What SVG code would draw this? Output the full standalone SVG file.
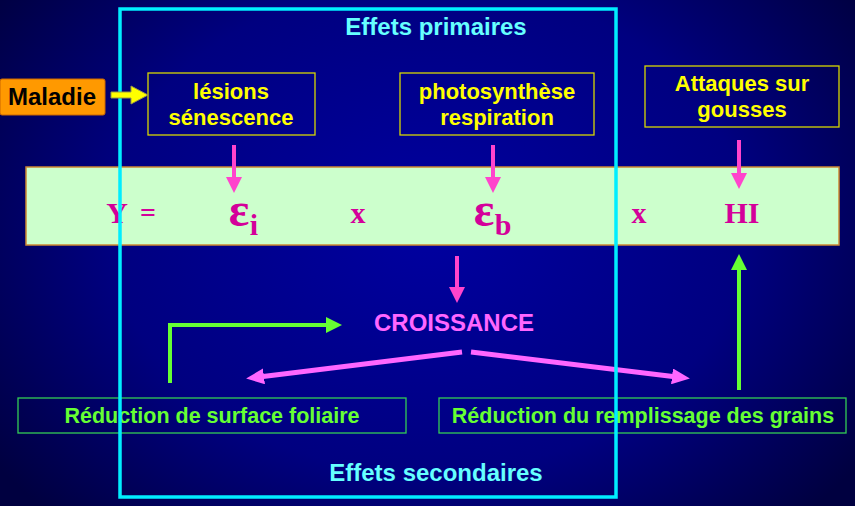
<svg xmlns="http://www.w3.org/2000/svg" width="855" height="506" viewBox="0 0 855 506">
<defs>
<radialGradient id="bg" cx="0.5" cy="0.45" r="0.62" gradientTransform="translate(0.5 0.45) scale(1 1.3) translate(-0.5 -0.45)">
<stop offset="0" stop-color="#0000a0"/>
<stop offset="0.6" stop-color="#000080"/>
<stop offset="1" stop-color="#000040"/>
</radialGradient>
<marker id="pk" markerWidth="4" markerHeight="4" refX="1" refY="2" orient="auto" markerUnits="strokeWidth" viewBox="0 0 4 4"><path d="M0,0 L4,2 L0,4 Z" fill="#ff44cc"/></marker>
<marker id="pk2" markerWidth="3.6" markerHeight="3.2" refX="1" refY="1.6" orient="auto" markerUnits="strokeWidth" viewBox="0 0 3.6 3.2"><path d="M0,0 L3.6,1.6 L0,3.2 Z" fill="#ff66ff"/></marker>
<marker id="gr" markerWidth="4" markerHeight="4" refX="1" refY="2" orient="auto" markerUnits="strokeWidth" viewBox="0 0 4 4"><path d="M0,0 L4,2 L0,4 Z" fill="#66ff33"/></marker>
</defs>
<style>
.yb{fill:none;stroke:#d8d800;stroke-width:1.3}
.yt{font-family:"Liberation Sans",Arial,sans-serif;font-weight:bold;font-size:22px;fill:#ffff00;text-anchor:middle}
.gb{fill:none;stroke:#33cc55;stroke-width:1.3}
.gt{font-family:"Liberation Sans",Arial,sans-serif;font-weight:bold;font-size:21.5px;fill:#66ff33;text-anchor:middle}
.ct{font-family:"Liberation Sans",Arial,sans-serif;font-weight:bold;font-size:24px;fill:#66ffff;text-anchor:middle}
.ft{font-family:"Liberation Serif","Times New Roman",serif;font-weight:bold;fill:#d4009a;text-anchor:middle}
.pa{stroke:#ff44cc;stroke-width:4;fill:none}
.pb{stroke:#ff66ff;stroke-width:5;fill:none}
.ga{stroke:#66ff33;stroke-width:4;fill:none}
</style>
<rect width="855" height="506" fill="url(#bg)"/>

<g id="maladie">
<rect x="0" y="79" width="105" height="36" rx="2" fill="#ff9900" stroke="#cc6600" stroke-width="1"/>
<text x="52" y="105" font-family="Liberation Sans,Arial,sans-serif" font-weight="bold" font-size="24" fill="#000" text-anchor="middle">Maladie</text>
</g>

<g id="lesions">
<rect class="yb" x="148" y="73" width="167" height="62"/>
<text class="yt" x="231" y="99">lésions</text>
<text class="yt" x="231" y="125">sénescence</text>
</g>

<g id="photosynthese">
<rect class="yb" x="400" y="73" width="194" height="62"/>
<text class="yt" x="497" y="99">photosynthèse</text>
<text class="yt" x="497" y="125">respiration</text>
</g>

<g id="attaques">
<rect class="yb" x="645" y="66" width="194" height="61"/>
<text class="yt" x="742" y="91">Attaques sur</text>
<text class="yt" x="742" y="117">gousses</text>
</g>

<g id="formule">
<rect x="26" y="167" width="813" height="78" fill="#ccffcc" stroke="#cc8833" stroke-width="1.5"/>
<text class="ft" x="117" y="223" font-size="30">Y</text>
<text class="ft" x="148" y="222" font-size="28">=</text>
<text class="ft" x="239" y="226" font-size="48">ε</text>
<text class="ft" x="254" y="235" font-size="30">i</text>
<text class="ft" x="484" y="226" font-size="48">ε</text>
<text class="ft" x="503" y="235" font-size="30">b</text>
<text class="ft" x="358" y="223" font-size="30">x</text>
<text class="ft" x="639" y="223" font-size="30">x</text>
<text class="ft" x="742" y="223" font-size="30">HI</text>
</g>

<g id="croissance">
<text x="454" y="331" font-family="Liberation Sans,Arial,sans-serif" font-weight="bold" font-size="24" fill="#ff66ff" text-anchor="middle">CROISSANCE</text>
</g>

<g id="reduction-foliaire">
<rect class="gb" x="18" y="398" width="388" height="35"/>
<text class="gt" x="212" y="423">Réduction de surface foliaire</text>
</g>

<g id="reduction-grains">
<rect class="gb" x="439" y="398" width="407" height="35"/>
<text class="gt" x="643" y="423">Réduction du remplissage des grains</text>
</g>

<g id="connecteurs">
<line class="pa" x1="234" y1="145" x2="234" y2="181" marker-end="url(#pk)"/>
<line class="pa" x1="493" y1="145" x2="493" y2="181" marker-end="url(#pk)"/>
<line class="pa" x1="739" y1="140" x2="739" y2="177" marker-end="url(#pk)"/>
<line class="pa" x1="457" y1="256" x2="457" y2="291" marker-end="url(#pk)"/>
<line class="pb" x1="462" y1="352" x2="259" y2="377" marker-end="url(#pk2)" stroke-width="4.5"/>
<line class="pb" x1="471" y1="352" x2="677" y2="377" marker-end="url(#pk2)" stroke-width="4.5"/>
<polyline class="ga" points="170,383 170,325 330,325" marker-end="url(#gr)"/>
<line class="ga" x1="739" y1="390" x2="739" y2="266" marker-end="url(#gr)"/>
</g>

<g id="cadre">
<rect x="120" y="9" width="496" height="488" fill="none" stroke="#00eeff" stroke-width="3.5"/>
<text class="ct" x="436" y="35">Effets primaires</text>
<text class="ct" x="436" y="481">Effets secondaires</text>
</g>

<g id="fleche-maladie">
<path d="M111,92 L131,92 L131,86 L148,95 L131,104 L131,98 L111,98 Z" fill="#ffff00" stroke="#999944" stroke-width="1"/>
</g>
</svg>
